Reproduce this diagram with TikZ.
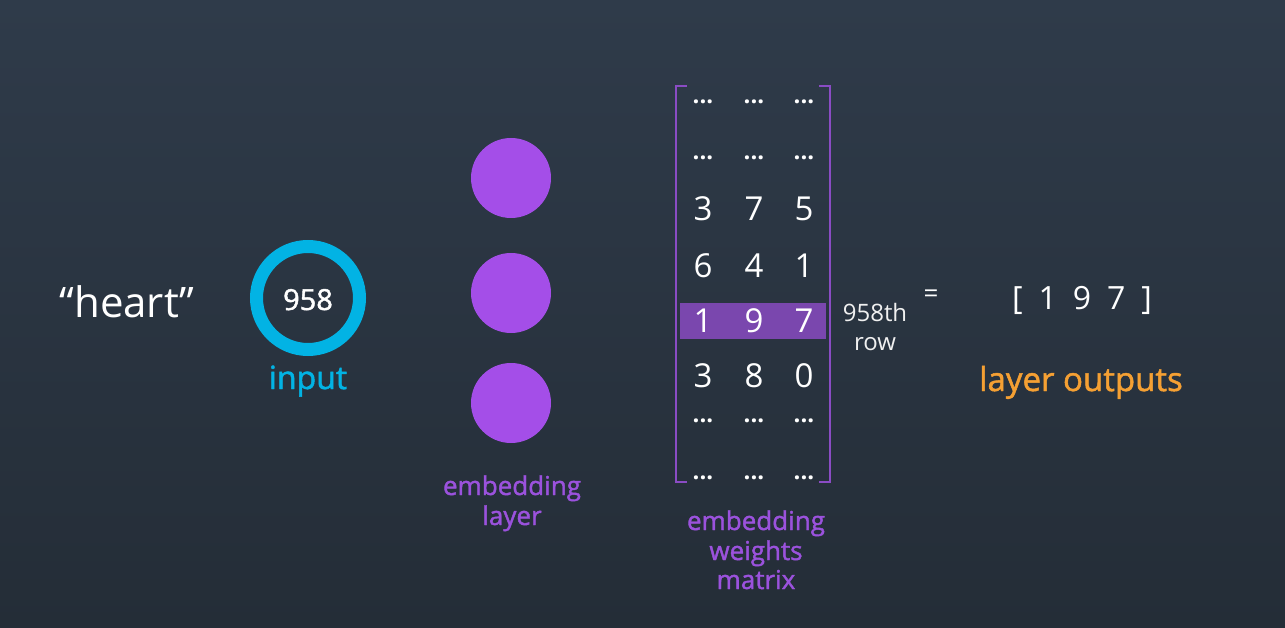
\documentclass[tikz,border=0pt]{standalone}
\usepackage{fontspec}
\setmainfont{Open Sans}
\newfontfamily\semib[FakeBold=1.5]{Open Sans}
\definecolor{bgtop}{HTML}{2F3B4A}
\definecolor{bgbot}{HTML}{242D37}
\definecolor{cyanring}{HTML}{02B3E4}
\definecolor{purplecirc}{HTML}{A44EE8}
\definecolor{purpletext}{HTML}{9B52DD}
\definecolor{bracketcol}{HTML}{8A4CC4}
\definecolor{hlcol}{HTML}{7A47AE}
\definecolor{orangetext}{HTML}{F5A033}
\newcommand{\fsz}[1]{\fontsize{#1}{#1}\selectfont}
\tikzset{
  txt/.style={inner sep=0pt, anchor=base, text=white},
  cell/.style={txt, font=\fsz{33}},
  dotcell/.style={txt, font=\fsz{24}\bfseries},
  purplelbl/.style={txt, text=purpletext, font=\semib\fsz{26}},
  neuron/.style={circle, fill=purplecirc, minimum size=80pt, inner sep=0pt},
  bracketline/.style={draw=bracketcol, line width=2.6pt},
}
\begin{document}
\begin{tikzpicture}[x=1pt,y=-1pt]
\shade[top color=bgtop, bottom color=bgbot] (0,0) rectangle (1285,628);
\useasboundingbox (0,0) rectangle (1285,628);

% word
\node[txt, font=\fsz{42}] (word) at (127,318) {“heart”};

% input ring
\node[circle, draw=cyanring, line width=13pt, minimum size=103pt, inner sep=0pt] (ring) at (308,298) {};
\node[txt, font=\semib\fsz{29}] (idx) at (308,310) {958};
\node[txt, text=cyanring, font=\semib\fsz{32}] (inlbl) at (308,389) {input};

% embedding layer neurons
\node[neuron] (n1) at (511,178) {};
\node[neuron] (n2) at (511,293) {};
\node[neuron] (n3) at (511,403) {};
\node[purplelbl] (el1) at (512,495) {embedding};
\node[purplelbl] (el2) at (512,525) {layer};

% highlight row
\fill[hlcol] (680,303) rectangle (826,339);

% brackets
\draw[bracketline] (687,86) -- (676,86) -- (676,482) -- (687,482);
\draw[bracketline] (819,86) -- (830,86) -- (830,482) -- (819,482);

% matrix entries
\foreach \y in {104,160,422,479}{
  \node[dotcell] at (703,\y) {...};
  \node[dotcell] at (754,\y) {...};
  \node[dotcell] at (804,\y) {...};
}
\node[cell] (a1) at (703,221) {3};
\node[cell] (a2) at (754,221) {7};
\node[cell] (a3) at (804,221) {5};
\node[cell] (b1) at (703,278) {6};
\node[cell] (b2) at (754,278) {4};
\node[cell] (b3) at (804,278) {1};
\node[cell] (c1) at (703,333) {1};
\node[cell] (c2) at (754,333) {9};
\node[cell] (c3) at (804,333) {7};
\node[cell] (d1) at (703,387) {3};
\node[cell] (d2) at (754,387) {8};
\node[cell] (d3) at (804,387) {0};

\node[purplelbl] (m1) at (756,530) {embedding};
\node[purplelbl] (m2) at (756,560) {weights};
\node[purplelbl] (m3) at (756,589) {matrix};

% row label
\node[txt, text=white!88!gray, font=\fsz{24}] (r1) at (875,321) {958th};
\node[txt, text=white!88!gray, font=\fsz{24}] (r2) at (875,350) {row};
\node[txt, font=\fsz{26}] (eq) at (931,302) {=};

% output
\node[txt, font=\fsz{32}] (out) at (1082,309) {[\hspace{16pt}1\hspace{16pt}9\hspace{16pt}7\hspace{16pt}]};
\node[txt, text=orangetext, font=\semib\fsz{33}] (outlbl) at (1081,391) {layer outputs};
\end{tikzpicture}
\end{document}
